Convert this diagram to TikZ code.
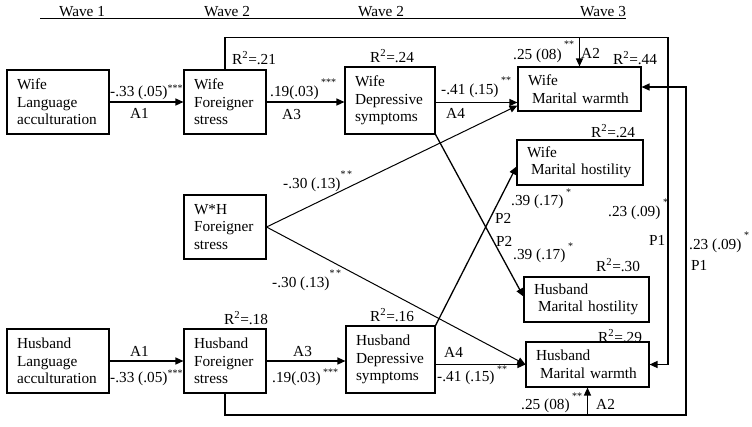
\documentclass[tikz,border=0pt]{standalone}
\usepackage{fontspec}
\setmainfont{Liberation Serif}
\usetikzlibrary{arrows.meta}
\newcommand\stars[2][10pt]{\raisebox{#1}{\fontsize{10}{10}\selectfont #2}}
\newcommand\Rsq{R\textsuperscript{2}}
\begin{document}
\begin{tikzpicture}[x=1pt,y=-1pt,
  box/.style={draw, line width=1.1pt, inner xsep=10pt, inner ysep=0pt, align=left,
    font=\fontsize{15.3}{17.5}\selectfont},
  lbl/.style={inner sep=0pt, anchor=base west, font=\fontsize{15.3}{17}\selectfont},
  ln/.style={line width=1.3pt},
  arr/.style={line width=1.3pt, -{Triangle[length=8pt,width=7pt]}},
  tarr/.style={line width=1pt, -{Triangle[length=8pt,width=7pt]}}]
\useasboundingbox (0,0) rectangle (752,426);

% wave header
\node[lbl, anchor=base] (w1) at (82,16) {Wave 1};
\node[lbl, anchor=base] (w2a) at (227,16) {Wave 2};
\node[lbl, anchor=base] (w2b) at (381,16) {Wave 2};
\node[lbl, anchor=base] (w3) at (603,16) {Wave 3};
\coordinate (wl) at (40,18.5);
\coordinate (wr) at (626,18.5);
\draw[line width=1.2pt] (wl) -- (wr);

% boxes
\node[box, text width=82pt, minimum height=64pt] (wla) at (58,102) {Wife\\Language\\acculturation};
\node[box, text width=62pt, minimum height=64pt] (wfs) at (225,102) {Wife\\Foreigner\\stress};
\node[box, text width=70pt, minimum height=67pt] (wds) at (390,100.5) {Wife\\Depressive\\symptoms};
\node[box, text width=103pt, minimum height=44pt] (wmw) at (579.5,89) {Wife\\\hspace*{4pt}Marital warmth};
\node[box, text width=106pt, minimum height=45pt] (wmh) at (580,162.5) {Wife\\\hspace*{4pt}Marital hostility};
\node[box, text width=62pt, minimum height=64pt] (wh) at (225,227) {W*H\\Foreigner\\stress};
\node[box, text width=105pt, minimum height=45pt] (hmh) at (586.5,299.5) {Husband\\\hspace*{4pt}Marital hostility};
\node[box, text width=103pt, minimum height=45pt] (hmw) at (587.5,364.5) {Husband\\\hspace*{4pt}Marital warmth};
\node[box, text width=82pt, minimum height=64pt] (hla) at (58,361) {Husband\\Language\\acculturation};
\node[box, text width=62pt, minimum height=64pt] (hfs) at (225,361) {Husband\\Foreigner\\stress};
\node[box, text width=69pt, minimum height=67pt] (hds) at (390.5,359.5) {Husband\\Depressive\\symptoms};

% horizontal paths
\draw[arr] (wla.east) -- (wfs.west);
\draw[arr] (wfs.east) -- (wfs.east -| wds.west);
\draw[arr] ([yshift=-2pt]wds.east) -- ([yshift=-2pt]wds.east -| wmw.west);
\draw[arr] (hla.east) -- (hfs.west);
\draw[arr] (hfs.east) -- (hfs.east -| hds.west);
\draw[arr] (hds.east |- hmw.west) -- (hmw.west);

% diagonal paths
\draw[tarr] (wh.east) -- ([yshift=6pt]wmw.south west);
\draw[tarr] (wh.east) -- (hmw.west);
\draw[arr] (wds.south east) -- ([yshift=3pt]hmh.west);
\draw[arr] (hds.north east) -- ([yshift=-4pt]wmh.west);

% feedback paths
\coordinate (tr) at (668,37.5);
\coordinate (br) at (686,415);
\draw[arr] (wfs.north) |- (tr) |- (hmw.east);
\draw[arr] (wmw.north |- tr) -- (wmw.north);
\draw[arr] (hfs.south) |- (br) |- ([yshift=2pt]wmw.east);
\draw[arr] (hmw.south |- br) -- (hmw.south);

% R-squared labels
\node[lbl] (r1) at (232,64) {\Rsq=.21};
\node[lbl] (r2) at (370,62) {\Rsq=.24};
\node[lbl] (r3) at (613,64) {\Rsq=.44};
\node[lbl] (r4) at (591,137) {\Rsq=.24};
\node[lbl] (r5) at (596,271) {\Rsq=.30};
\node[lbl] (r6) at (370,321) {\Rsq=.16};
\node[lbl] (r7) at (598,342) {\Rsq=.29};
\node[lbl] (r8) at (224,324) {\Rsq=.18};

% path labels, upper
\node[lbl] (l1) at (110,96) {-.33 (.05)\stars[4.5pt]{***}};
\node[lbl] (l2) at (130,118) {A1};
\node[lbl] (l3) at (270,96) {.19(.03)\,\stars[11pt]{***}};
\node[lbl] (l4) at (282,119) {A3};
\node[lbl] (l5) at (441,94) {-.41 (.15)\,\stars[10.5pt]{**}};
\node[lbl] (l6) at (446,118) {A4};
\node[lbl] (l7) at (513,59) {.25 (08)\,\stars[11.5pt]{**}};
\node[lbl] (l8) at (581,58) {A2};

% middle labels
\node[lbl] (m1) at (283,188) {-.30 (.13)\stars[11pt]{*\,*}};
\node[lbl] (m2) at (272,287) {-.30 (.13)\stars[11pt]{*\,*}};
\node[lbl] (m3) at (511,205) {.39 (.17)\,\stars[10pt]{*}};
\node[lbl] (m4) at (495,223) {P2};
\node[lbl] (m5) at (496,246) {P2};
\node[lbl] (m6) at (513,259) {.39 (.17)\,\stars[10pt]{*}};
\node[lbl] (m7) at (608,216) {.23 (.09)\,\stars[11pt]{*}};
\node[lbl] (m8) at (649,245) {P1};
\node[lbl] (m9) at (689,249) {.23 (.09)\,\stars[11pt]{*}};
\node[lbl] (m10) at (691,270) {P1};

% path labels, lower
\node[lbl] (h1) at (130,356) {A1};
\node[lbl] (h2) at (110,382) {-.33 (.05)\stars[6pt]{***}};
\node[lbl] (h3) at (293,356) {A3};
\node[lbl] (h4) at (272,382) {.19(.03)\,\stars[7pt]{***}};
\node[lbl] (h5) at (444,357) {A4};
\node[lbl] (h6) at (437,381) {-.41 (.15)\,\stars[9pt]{**}};
\node[lbl] (h7) at (521,409) {.25 (08)\,\stars[10pt]{**}};
\node[lbl] (h8) at (596,409) {A2};
\end{tikzpicture}
\end{document}
